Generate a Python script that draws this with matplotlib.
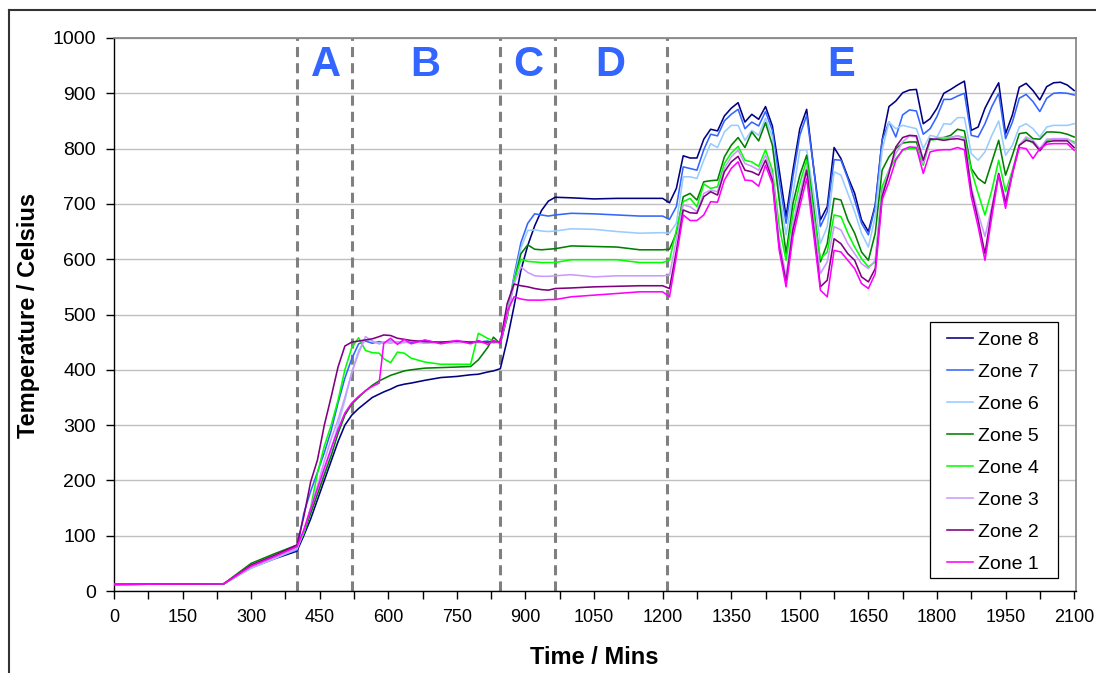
import matplotlib
matplotlib.use("Agg")
import matplotlib.pyplot as plt
from matplotlib.lines import Line2D
from matplotlib.patches import Rectangle

# ---- data -------------------------------------------------------------
time_early = [0, 240, 300, 350, 400]
time_a = [415, 430, 445, 460, 475, 490, 505, 520]
time_b = [535, 550, 565, 580, 590, 605, 620, 635, 650, 680, 715, 750, 780, 797, 817, 830, 845]
time_c = [860, 875, 890, 905, 920, 935, 950, 965]
time_d = [1000, 1050, 1100, 1150, 1200]
time_e = list(range(1215, 2101, 15))
time_mins = time_early + time_a + time_b + time_c + time_d + time_e

zone8 = ([12, 13, 42, 58, 72]
         + [100, 130, 165, 200, 235, 270, 300, 318]
         + [330, 340, 350, 356, 360, 365, 371, 374, 376, 381, 386, 388, 391, 392, 396, 398, 402]
         + [454, 515, 580, 625, 660, 688, 705, 712]
         + [711, 709, 710, 710, 710]
         + [702, 728, 787, 783, 783, 817, 835, 832, 859, 873, 883, 848, 862, 853, 876,
            841, 761, 677, 761, 836, 871, 767, 671, 695, 802, 782, 749, 719, 671, 650,
            698, 815, 876, 886, 901, 906, 907, 845, 854, 873, 900, 907, 915, 922, 833,
            839, 873, 897, 919, 827, 861, 911, 918, 905, 888, 912, 919, 920, 915, 905])
zone7 = ([12, 13, 43, 60, 74]
         + [140, 180, 215, 250, 290, 340, 385, 420]
         + [447, 452, 448, 451, 449, 452, 448, 450, 449, 453, 448, 451, 449, 450, 452, 449, 451]
         + [500, 570, 630, 665, 682, 680, 678, 680]
         + [683, 682, 680, 678, 678]
         + [672, 695, 767, 764, 761, 798, 826, 823, 850, 862, 871, 836, 848, 841, 867,
            833, 743, 665, 749, 824, 860, 767, 659, 686, 780, 779, 746, 707, 665, 644,
            695, 815, 848, 821, 861, 870, 868, 826, 836, 858, 889, 889, 895, 900, 824,
            821, 845, 876, 900, 818, 848, 891, 898, 885, 867, 891, 900, 901, 900, 897])
zone6 = ([12, 13, 41, 58, 76]
         + [105, 140, 175, 215, 255, 300, 345, 395]
         + [435, 455, 452, 447, 449, 451, 448, 450, 452, 448, 451, 449, 450, 452, 448, 450, 450]
         + [495, 565, 620, 652, 653, 651, 650, 651]
         + [655, 654, 650, 647, 648]
         + [647, 665, 749, 749, 746, 779, 809, 802, 830, 842, 842, 815, 833, 824, 855,
            821, 719, 644, 719, 797, 798, 719, 628, 659, 758, 752, 719, 686, 647, 622,
            677, 797, 848, 836, 842, 839, 836, 800, 824, 821, 845, 844, 856, 856, 791,
            779, 794, 824, 850, 788, 806, 839, 845, 836, 821, 839, 842, 842, 842, 845])
zone5 = ([12, 13, 50, 67, 83]
         + [105, 140, 175, 210, 245, 285, 318, 338]
         + [350, 362, 372, 380, 384, 390, 394, 398, 400, 403, 404, 405, 406, 418, 440, 459, 447]
         + [495, 560, 610, 626, 618, 617, 618, 619]
         + [624, 623, 622, 617, 617]
         + [618, 647, 713, 719, 707, 740, 742, 743, 785, 806, 820, 802, 830, 814, 847,
            806, 707, 610, 701, 752, 788, 695, 595, 628, 710, 707, 671, 647, 613, 598,
            647, 761, 785, 800, 810, 812, 812, 776, 818, 817, 820, 824, 835, 832, 764,
            746, 737, 776, 815, 752, 788, 827, 829, 818, 817, 830, 830, 829, 826, 821])
zone4 = ([12, 13, 47, 64, 80]
         + [105, 150, 213, 262, 300, 345, 400, 440]
         + [458, 435, 431, 430, 420, 413, 432, 430, 421, 414, 410, 410, 410, 466, 457, 452, 450]
         + [500, 560, 600, 596, 595, 594, 594, 594]
         + [599, 599, 599, 594, 594]
         + [598, 653, 704, 710, 695, 736, 728, 731, 773, 792, 804, 779, 776, 768, 798,
            761, 659, 598, 683, 737, 779, 683, 601, 613, 680, 677, 647, 622, 601, 586,
            595, 731, 761, 782, 797, 800, 800, 770, 815, 817, 818, 820, 823, 820, 761,
            719, 680, 725, 779, 722, 761, 806, 818, 810, 798, 815, 817, 817, 817, 812])
zone3 = ([12, 13, 43, 60, 76]
         + [110, 150, 190, 235, 275, 310, 350, 395]
         + [430, 460, 452, 447, 450, 448, 451, 449, 452, 448, 450, 449, 451, 449, 450, 449, 450]
         + [500, 555, 586, 576, 570, 569, 569, 570]
         + [572, 568, 570, 570, 570]
         + [571, 635, 698, 695, 686, 719, 725, 722, 764, 785, 797, 773, 768, 761, 788,
            752, 635, 568, 665, 719, 767, 671, 574, 595, 659, 653, 628, 610, 592, 583,
            598, 719, 761, 791, 812, 823, 821, 773, 815, 820, 820, 820, 823, 818, 731,
            683, 641, 695, 755, 707, 758, 806, 821, 815, 800, 817, 818, 818, 818, 809])
zone2 = ([12, 13, 47, 64, 83]
         + [134, 197, 237, 300, 351, 405, 443, 450]
         + [452, 454, 456, 460, 463, 462, 457, 455, 453, 451, 450, 452, 450, 451, 450, 451, 450]
         + [520, 555, 552, 550, 547, 545, 544, 547]
         + [548, 550, 551, 552, 552]
         + [547, 615, 689, 684, 683, 713, 722, 716, 758, 776, 786, 761, 758, 752, 779,
            743, 622, 559, 653, 707, 761, 659, 550, 562, 637, 628, 610, 598, 568, 559,
            583, 713, 755, 803, 820, 824, 823, 779, 817, 817, 815, 817, 818, 815, 725,
            671, 610, 689, 755, 701, 755, 806, 815, 812, 796, 812, 814, 814, 814, 802])
zone1 = ([12, 13, 45, 62, 80]
         + [110, 148, 185, 222, 258, 292, 322, 340]
         + [352, 362, 370, 376, 448, 457, 446, 455, 447, 454, 447, 453, 447, 453, 446, 453, 448]
         + [505, 532, 528, 526, 526, 526, 527, 527]
         + [532, 535, 538, 541, 541]
         + [532, 605, 680, 670, 670, 680, 704, 703, 743, 764, 776, 743, 742, 732, 770,
            737, 616, 550, 641, 695, 746, 647, 544, 532, 616, 613, 598, 583, 556, 547,
            574, 707, 740, 779, 798, 803, 802, 755, 794, 797, 798, 798, 802, 798, 713,
            659, 598, 677, 752, 692, 755, 802, 800, 782, 800, 808, 809, 809, 809, 797])

zone_names = ["Zone 8", "Zone 7", "Zone 6", "Zone 5", "Zone 4", "Zone 3", "Zone 2", "Zone 1"]
zone_series = [zone8, zone7, zone6, zone5, zone4, zone3, zone2, zone1]
zone_colors = ["#000080", "#3366FF", "#99CCFF", "#008000", "#00FF00", "#CC99FF", "#800080", "#FF00FF"]

phase_bounds = [400, 520, 845, 965, 1210]
phase_labels = ["A", "B", "C", "D", "E"]
phase_label_x = [464, 681, 906, 1086, 1590]

# ---- figure -----------------------------------------------------------
plt.rcParams["font.family"] = ["Liberation Sans", "DejaVu Sans"]
W, H = 1096, 673
fig = plt.figure(figsize=(W / 100, H / 100), dpi=100)
ax = fig.add_axes([114 / W, 1 - 591 / H, (1075.5 - 114) / W, (591 - 38) / H])

ax.set_xlim(0, 2103)
ax.set_ylim(0, 1000)

# horizontal gridlines
ax.set_yticks(range(0, 1001, 100))
ax.yaxis.grid(True, color="#C0C0C0", linewidth=1.0)
ax.set_axisbelow(True)

# phase boundaries
for xb in phase_bounds:
    ax.axvline(xb, color="#808080", linewidth=2.2, dashes=(3.3, 2.0), zorder=1)

for lab, xl in zip(phase_labels, phase_label_x):
    ax.text(xl, 951, lab, color="#3366FF", fontsize=30, fontweight="bold",
            ha="center", va="center")

for name, vals, col in zip(zone_names, zone_series, zone_colors):
    ax.plot(time_mins, vals, color=col, linewidth=1.15, label=name, zorder=3)

# axes styling
ax.set_xticks(range(0, 2101, 75))
ax.set_xticklabels([str(t) if t % 150 == 0 else "" for t in range(0, 2101, 75)])
ax.tick_params(axis="both", direction="out", length=6, width=1,
               color="black", pad=7)
ax.tick_params(axis="x", labelsize=13)
ax.tick_params(axis="y", labelsize=14)
for side in ("top", "right"):
    ax.spines[side].set_color("#808080")
    ax.spines[side].set_linewidth(1.2)
for side in ("left", "bottom"):
    ax.spines[side].set_color("black")
    ax.spines[side].set_linewidth(1.0)

fig.text(594 / W, 1 - 657 / H, "Time / Mins", ha="center", va="center",
         fontsize=17, fontweight="bold")
fig.text(29 / W, 1 - 315 / H, "Temperature / Celsius", ha="center", va="center",
         rotation=90, fontsize=17, fontweight="bold")

# legend: box drawn as a patch, entries placed inside it
legend_box = Rectangle((930 / W, 1 - 578 / H), (1058 - 930) / W, (578 - 322) / H,
                       transform=fig.transFigure, facecolor="white",
                       edgecolor="black", linewidth=0.9, zorder=6, clip_on=False)
ax.add_patch(legend_box)
leg = ax.legend(loc="upper left", bbox_to_anchor=(947 / W, 1 - 331 / H),
                bbox_transform=fig.transFigure, borderaxespad=0, borderpad=0,
                fontsize=14, frameon=False,
                handlelength=1.34, handletextpad=0.26, labelspacing=0.74)
leg.set_zorder(7)

# outer chart border
fig.add_artist(Line2D([9 / W, 9 / W], [0, 1 - 10 / H], transform=fig.transFigure,
                      color="#333333", linewidth=1.5))
fig.add_artist(Line2D([9 / W, 1], [1 - 10 / H, 1 - 10 / H], transform=fig.transFigure,
                      color="#333333", linewidth=1.5))

fig.savefig("out.png", dpi=100)
